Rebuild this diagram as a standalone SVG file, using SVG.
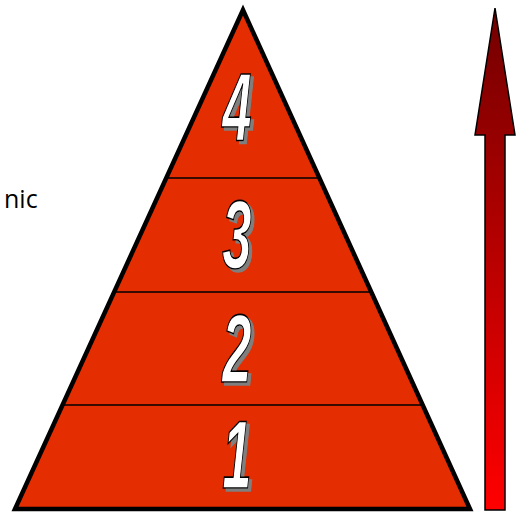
<svg xmlns="http://www.w3.org/2000/svg" width="524" height="512" viewBox="0 0 524 512">
<style>
.num{font-family:"Liberation Sans",Arial,sans-serif;font-weight:bold;font-style:italic;font-size:96px;text-anchor:middle;fill:#fff;stroke:#000;stroke-width:1.6;filter:url(#sh)}
.div{stroke:#000;stroke-width:1.5}
</style>
<defs>
<linearGradient id="ag" x1="0" y1="8" x2="0" y2="510" gradientUnits="userSpaceOnUse">
<stop offset="0" stop-color="#720000"/>
<stop offset="1" stop-color="#ff0000"/>
</linearGradient>
<filter id="sh" x="-20%" y="-20%" width="150%" height="150%">
<feOffset in="SourceAlpha" dx="5" dy="3" result="o"/>
<feFlood flood-color="#7f7f7f"/>
<feComposite in2="o" operator="in" result="s"/>
<feMerge><feMergeNode in="s"/><feMergeNode in="SourceGraphic"/></feMerge>
</filter>
</defs>
<rect width="524" height="512" fill="#fff"/>
<text id="side-text" x="4" y="208" font-family="Open Sans, sans-serif" font-size="25" fill="#000">nic</text>
<g id="pyramid">
<polygon points="243,10 15,509 470,509" fill="#e42d00" stroke="#000" stroke-width="4.5" stroke-linejoin="miter"/>
</g>
<g id="connectors">
<line class="div" x1="166" y1="178" x2="320" y2="178"/>
<line class="div" x1="114" y1="292" x2="371" y2="292"/>
<line class="div" x1="62" y1="405" x2="423" y2="405"/>
</g>
<g id="level4"><text class="num" transform="translate(237,141) scale(0.55,1)">4</text></g>
<g id="level3"><text class="num" transform="translate(237,268) scale(0.55,1)">3</text></g>
<g id="level2"><text class="num" transform="translate(237,382) scale(0.55,1)">2</text></g>
<g id="level1"><text class="num" transform="translate(237,488) scale(0.55,1)">1</text></g>
<g id="arrow">
<polygon points="495,8 515,135 505,135 505,510 485,510 485,135 475,135" fill="url(#ag)" stroke="#000" stroke-width="1.5" stroke-linejoin="miter"/>
</g>
</svg>
